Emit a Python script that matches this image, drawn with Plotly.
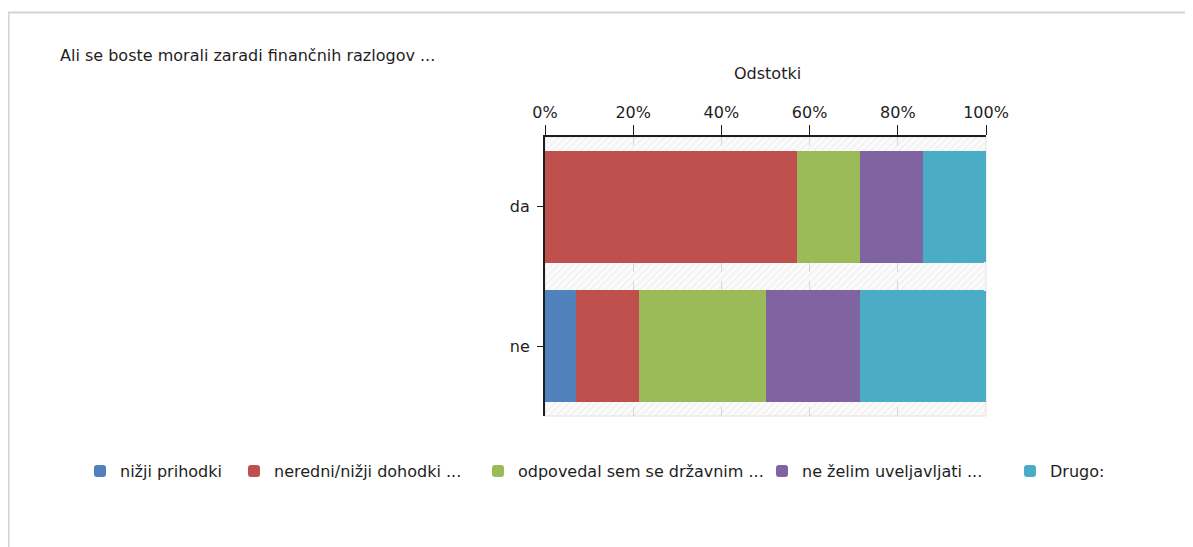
import plotly.graph_objects as go

# answers ("da" / "ne") and share of each reason, in percent
answers = ["da", "ne"]
reasons = [
    "nižji prihodki",
    "neredni/nižji dohodki ...",
    "odpovedal sem se državnim ...",
    "ne želim uveljavljati ...",
    "Drugo:",
]
share_da = [0.0, 57.1, 14.3, 14.3, 14.3]
share_ne = [7.1, 14.3, 28.6, 21.4, 28.6]
tick_values = [0, 20, 40, 60, 80, 100]
tick_labels = ["0%", "20%", "40%", "60%", "80%", "100%"]
colors = ["#4f81bd", "#c0504d", "#9bbb59", "#8064a2", "#4bacc6"]

FONT = "DejaVu Sans"
TEXT = "#1e1e1e"
# the page puts the figure 8px in from the top-left corner
OFF = 8
W, H = 1193 - OFF, 547 - OFF
# plot area in page pixels
L, R, T, B = 545 - OFF, 986 - OFF, 137 - OFF, 416 - OFF
# where each legend entry's text starts (page pixels)
legend_text_x = [118, 272, 516, 800, 1048]


def px_x(px):
    return (px - OFF - L) / (R - L)


def px_y(py):
    return (B - (py - OFF)) / (B - T)


fig = go.Figure()

# hatched background band behind every category
fig.add_trace(go.Bar(
    y=answers,
    x=[100] * len(answers),
    orientation="h",
    width=1,
    marker=dict(
        color="rgba(0,0,0,0)",
        line=dict(width=0),
        pattern=dict(shape="/", fgcolor="#e2e2e2", bgcolor="rgba(0,0,0,0)", size=5, solidity=0.25),
    ),
    showlegend=False,
    hoverinfo="skip",
    xaxis="x",
    yaxis="y",
))

legends = {}
for i, name in enumerate(reasons):
    key = "legend" if i == 0 else f"legend{i + 1}"
    fig.add_trace(go.Bar(
        y=answers,
        x=[share_da[i], share_ne[i]],
        orientation="h",
        name=name,
        marker=dict(color=colors[i], line=dict(width=0), cornerradius=2),
        xaxis="x2",
        yaxis="y",
        legend=key,
    ))
    legends[key] = dict(
        orientation="h",
        x=(legend_text_x[i] - OFF - 38 - L) / (R - L),
        xanchor="left",
        y=px_y(454),
        yanchor="top",
        font=dict(family=FONT, size=16, color=TEXT),
        bgcolor="rgba(0,0,0,0)",
    )

fig.update_layout(
    width=W,
    height=H,
    margin=dict(l=L, r=W - R, t=T, b=H - B, autoexpand=False),
    paper_bgcolor="white",
    plot_bgcolor="#fbfbfb",
    font=dict(family=FONT, size=16, color=TEXT),
    barmode="stack",
    bargap=0.2,
    title=dict(
        text="Ali se boste morali zaradi finančnih razlogov ...",
        x=(60 - OFF) / W,
        xanchor="left",
        y=1 - (55 - OFF) / H,
        yanchor="middle",
        font=dict(family=FONT, size=16, color=TEXT),
    ),
    xaxis=dict(
        side="top",
        range=[0, 100],
        tickvals=tick_values,
        ticktext=tick_labels,
        ticks="outside",
        ticklen=10,
        tickcolor=TEXT,
        ticklabelstandoff=1,
        showline=True,
        linecolor=TEXT,
        linewidth=2,
        showgrid=True,
        gridcolor="#d6d6d6",
        griddash="dash",
        zeroline=False,
        fixedrange=True,
    ),
    xaxis2=dict(
        overlaying="x",
        range=[0, 100],
        visible=False,
        fixedrange=True,
    ),
    yaxis=dict(
        range=[1.5, -0.5],
        ticks="outside",
        ticklen=6,
        tickcolor=TEXT,
        ticklabelstandoff=4,
        showline=True,
        linecolor=TEXT,
        linewidth=2,
        showgrid=False,
        zeroline=False,
        fixedrange=True,
    ),
    annotations=[
        dict(
            text="Odstotki",
            xref="paper",
            yref="paper",
            x=px_x(767),
            y=px_y(73),
            xanchor="center",
            yanchor="middle",
            showarrow=False,
            font=dict(family=FONT, size=16, color=TEXT),
        )
    ],
    shapes=[
        # light frame around the chart
        dict(
            type="rect",
            xref="paper",
            yref="paper",
            x0=px_x(8.5),
            x1=px_x(1220),
            y0=px_y(580),
            y1=px_y(12.5),
            line=dict(color="#d4d4d4", width=2),
            fillcolor="rgba(0,0,0,0)",
            layer="below",
        ),
        # thin light edge around the plot area
        dict(
            type="rect",
            xref="paper",
            yref="paper",
            x0=0,
            x1=1,
            y0=0,
            y1=1,
            line=dict(color="#e2e2e2", width=1),
            fillcolor="rgba(0,0,0,0)",
            layer="below",
        ),
    ],
    **legends,
)

fig.write_html("out.html")
